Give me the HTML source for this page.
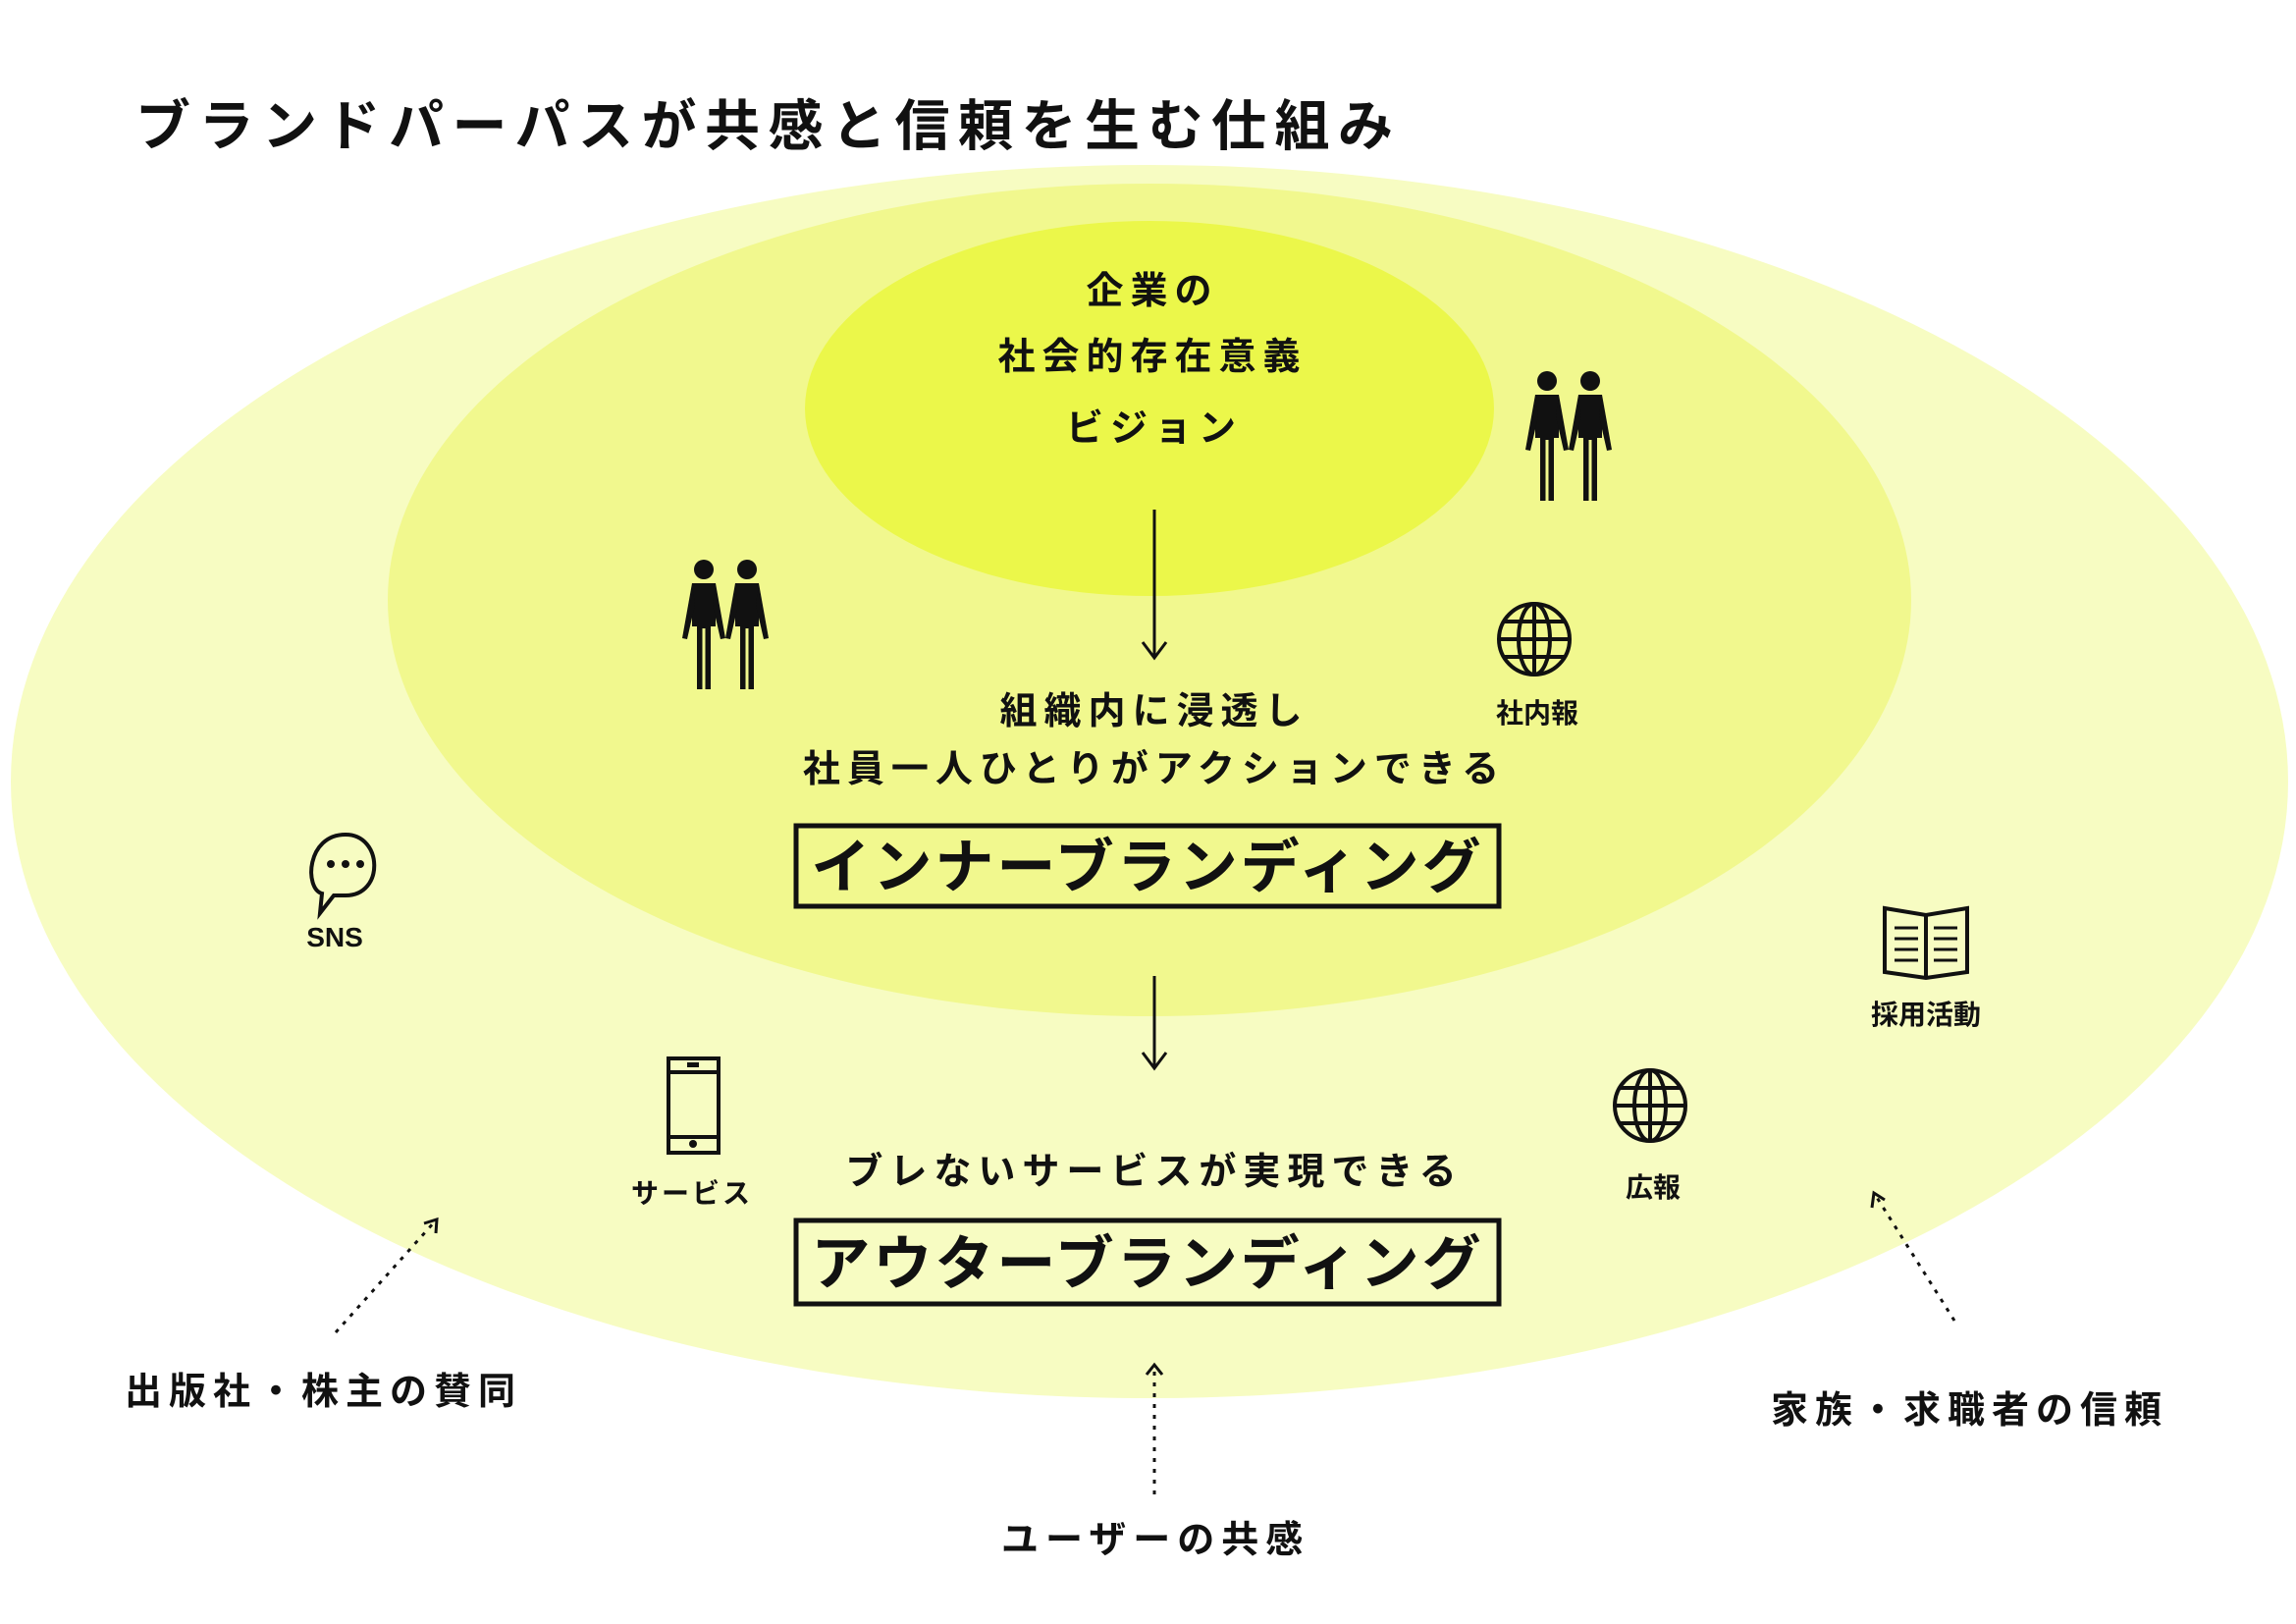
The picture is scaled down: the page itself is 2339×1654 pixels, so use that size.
<!DOCTYPE html>
<html><head><meta charset="utf-8"><style>
html,body{margin:0;padding:0;background:#fff}
svg{display:block}
text{font-family:"Liberation Sans","Noto Sans CJK JP",sans-serif;font-weight:bold;fill:#111}
</style></head><body>
<svg width="2339" height="1654" viewBox="0 0 2339 1654" xmlns="http://www.w3.org/2000/svg">
<defs>
<g id="person">
 <circle cx="0" cy="-50" r="10"/>
 <path d="M-12,-36 L12,-36 L12,8 L7,8 L7,72 L-7,72 L-7,8 L-12,8 Z"/>
 <path d="M-1.5,72 L-1.5,10 L1.5,10 L1.5,72Z" fill="#f0f78e"/>
 <path d="M-12,-36 L-22,20 L-17,21 L-9,-14Z"/>
 <path d="M12,-36 L22,20 L17,21 L9,-14Z"/>
</g>
<g id="people">
 <use href="#person" x="-22" y="0"/>
 <use href="#person" x="22" y="0"/>
</g>
<g id="globe" fill="none" stroke="#111" stroke-width="4">
 <circle cx="0" cy="0" r="36"/>
 <ellipse cx="0" cy="0" rx="16" ry="36"/>
 <line x1="0" y1="-36" x2="0" y2="36"/>
 <line x1="-36" y1="0" x2="36" y2="0"/>
 <line x1="-30" y1="-18" x2="30" y2="-18"/>
 <line x1="-30" y1="18" x2="30" y2="18"/>
</g>
</defs>
<ellipse cx="1171" cy="796" rx="1160" ry="628" fill="#f7fcc2"/>
<ellipse cx="1171" cy="611" rx="776" ry="424" fill="#f1f88e"/>
<ellipse cx="1171" cy="416" rx="351" ry="191" fill="#ebf74a"/>

<text x="138" y="148" font-size="56" letter-spacing="8.5">ブランドパーパスが共感と信頼を生む仕組み</text>

<g font-size="38" text-anchor="middle" letter-spacing="7">
<text x="1174" y="309">企業の</text>
<text x="1174" y="376">社会的存在意義</text>
<text x="1176" y="449">ビジョン</text>
<text x="1176" y="737">組織内に浸透し</text>
<text x="1176" y="796">社員一人ひとりがアクションできる</text>
<text x="1176" y="1206">ブレないサービスが実現できる</text>
</g>
<g font-size="38" letter-spacing="7">
<text x="127" y="1430">出版社・株主の賛同</text>
<text x="1804" y="1449">家族・求職者の信頼</text>
<text x="1020" y="1581">ユーザーの共感</text>
</g>

<rect x="811" y="841" width="716" height="82" fill="none" stroke="#111" stroke-width="5"/>
<text x="1169" y="904" font-size="60" text-anchor="middle" letter-spacing="3">インナーブランディング</text>
<rect x="811" y="1243" width="716" height="85" fill="none" stroke="#111" stroke-width="5"/>
<text x="1169" y="1308" font-size="60" text-anchor="middle" letter-spacing="3">アウターブランディング</text>

<g stroke="#111" stroke-width="3" fill="none">
<line x1="1176" y1="519" x2="1176" y2="670"/>
<path d="M1164,654 L1176,670 L1188,654"/>
<line x1="1176" y1="994" x2="1176" y2="1088"/>
<path d="M1164,1072 L1176,1088 L1188,1072"/>
<g stroke-dasharray="4,7">
<line x1="1176" y1="1522" x2="1176" y2="1392"/>
<line x1="342" y1="1357" x2="443" y2="1244"/>
<line x1="1991" y1="1345" x2="1911" y2="1218"/>
</g>
<path d="M1168,1400 L1176,1390 L1184,1400"/>
<path d="M432,1246 L445,1242 L444,1256"/>
<path d="M1907,1230 L1909,1215 L1920,1222"/>
</g>

<g fill="#111"><use href="#people" x="739" y="630"/><use href="#people" x="1598" y="438"/></g>
<use href="#globe" x="1563" y="651"/>
<use href="#globe" x="1681" y="1126"/>

<g fill="none" stroke="#111" stroke-width="4">
<path d="M352,850 C390,850 392,912 352,912 L340,912 L326,930 L328,910 C310,905 312,850 352,850Z"/>
</g>
<g fill="#111"><circle cx="337" cy="880" r="4"/><circle cx="352" cy="880" r="4"/><circle cx="367" cy="880" r="4"/></g>
<g fill="none" stroke="#111" stroke-width="4">
<rect x="681" y="1078" width="51" height="96"/>
<line x1="681" y1="1092" x2="732" y2="1092"/>
<line x1="681" y1="1158" x2="732" y2="1158"/>
</g>
<rect x="700" y="1082" width="12" height="5" fill="#111"/>
<circle cx="706" cy="1165" r="4" fill="#111"/>
<g fill="none" stroke="#111" stroke-width="4">
<path d="M1920,925 L1962,932 L2004,925 L2004,990 L1962,996 L1920,990Z"/>
<line x1="1962" y1="932" x2="1962" y2="996"/>
<path d="M1930,945h24M1930,956h24M1930,967h24M1930,978h24M1970,945h24M1970,956h24M1970,967h24M1970,978h24" stroke-width="3"/>
</g>

<g font-size="28" text-anchor="middle">
<text x="341" y="964">SNS</text>
<text x="705" y="1225" letter-spacing="3">サービス</text>
<text x="1566" y="736">社内報</text>
<text x="1684" y="1219">広報</text>
<text x="1962" y="1043">採用活動</text>
</g>
</svg>
</body></html>
